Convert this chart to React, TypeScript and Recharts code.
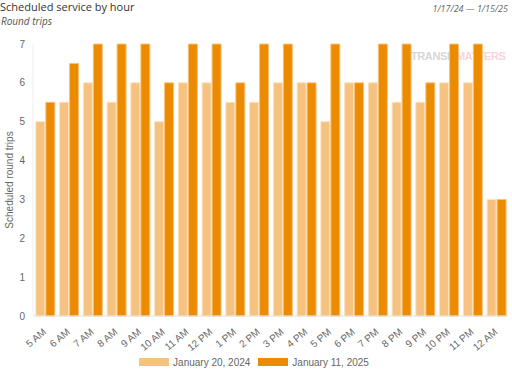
import React from 'react';
import { BarChart, Bar, XAxis, YAxis, Legend } from 'recharts';

const hours = ['5 AM', '6 AM', '7 AM', '8 AM', '9 AM', '10 AM', '11 AM', '12 PM', '1 PM', '2 PM', '3 PM', '4 PM', '5 PM', '6 PM', '7 PM', '8 PM', '9 PM', '10 PM', '11 PM', '12 AM'];
const trips2024 = [5, 5.5, 6, 5.5, 6, 5, 6, 6, 5.5, 5.5, 6, 6, 5, 6, 6, 5.5, 5.5, 6, 6, 3];
const trips2025 = [5.5, 6.5, 7, 7, 7, 6, 7, 7, 6, 7, 7, 6, 7, 6, 7, 7, 6, 7, 7, 3];
const yTicks = [0, 1, 2, 3, 4, 5, 6, 7];
const seriesNames = ['January 20, 2024', 'January 11, 2025'];

const LIGHT = '#F5C27F';
const DARK = '#ED8B00';
const FONT = '"Liberation Sans", Arial, sans-serif';

const data = hours.map((h, i) => ({ hour: h, a: trips2024[i], b: trips2025[i] }));

const XTick = (props: any) => {
  const { x, y, payload } = props;
  return (
    <g transform={`translate(${x + 2},${y + 9})`}>
      <text x={0} y={0} textAnchor="end" transform="rotate(-40)" fontSize={10} fill="#666" fontFamily={FONT}>
        {payload.value}
      </text>
    </g>
  );
};

const LegendContent = () => (
  <div style={{ display: 'flex', justifyContent: 'center', alignItems: 'center', height: 20, fontFamily: FONT, fontSize: 10, color: '#666' }}>
    <span style={{ display: 'inline-block', width: 30, height: 8, background: LIGHT, marginRight: 4 }} />
    <span style={{ marginRight: 8 }}>{seriesNames[0]}</span>
    <span style={{ display: 'inline-block', width: 30, height: 8, background: DARK, marginRight: 4 }} />
    <span>{seriesNames[1]}</span>
  </div>
);

export default function App() {
  return (
    <div style={{ position: 'absolute', left: 0, top: 0, width: 512, height: 372, background: '#fff', overflow: 'hidden' }}>
      <div style={{ position: 'absolute', left: 0, top: -1, fontFamily: '"Open Sans", sans-serif', fontSize: 11, color: '#333', whiteSpace: 'nowrap', lineHeight: '15px' }}>
        Scheduled service by hour
      </div>
      <div style={{ position: 'absolute', left: 1, top: 15, fontFamily: '"Open Sans", sans-serif', fontSize: 10, fontStyle: 'italic', color: '#555', whiteSpace: 'nowrap', lineHeight: '13px' }}>
        Round trips
      </div>
      <div style={{ position: 'absolute', right: 4, top: 2, fontFamily: '"Open Sans", sans-serif', fontSize: 9, fontStyle: 'italic', color: '#666', whiteSpace: 'nowrap' }}>
        1/17/24 — 1/15/25
      </div>
      <div style={{ position: 'absolute', left: 411, top: 50, fontFamily: '"Liberation Sans", Arial, sans-serif', fontSize: 11, fontWeight: 'bold', letterSpacing: -0.4, whiteSpace: 'nowrap', opacity: 0.6 }}>
        <span style={{ color: '#bbb' }}>TRANSIT</span><span style={{ color: '#f6b8c2' }}>MATTERS</span>
      </div>
      <div style={{ position: 'absolute', left: 0, top: 0 }}>
        <BarChart width={512} height={372} data={data} margin={{ top: 44, right: 4, left: 0, bottom: 0 }} barCategoryGap="12%" barGap={1}>
          <XAxis
            dataKey="hour"
            interval={0}
            tick={<XTick />}
            tickLine={false}
            axisLine={{ stroke: '#e0e0e0' }}
            height={36}
          />
          <YAxis
            width={33}
            domain={[0, 7]}
            ticks={yTicks}
            tickLine={false}
            axisLine={{ stroke: '#eeeeee' }}
            tick={{ fontSize: 10, fill: '#666', fontFamily: FONT }}
            label={() => (
              <text x={9} y={180} transform="rotate(-90, 9, 180)" textAnchor="middle" dominantBaseline="central" fontSize={10} fill="#666" fontFamily={FONT}>
                Scheduled round trips
              </text>
            )}
          />
          <Legend verticalAlign="bottom" content={<LegendContent />} />
          <Bar dataKey="a" name={seriesNames[0]} fill={LIGHT} stroke="#fbe3c2" strokeWidth={1} isAnimationActive={false} />
          <Bar dataKey="b" name={seriesNames[1]} fill={DARK} stroke="#f7c27a" strokeWidth={1} isAnimationActive={false} />
        </BarChart>
      </div>
    </div>
  );
}
